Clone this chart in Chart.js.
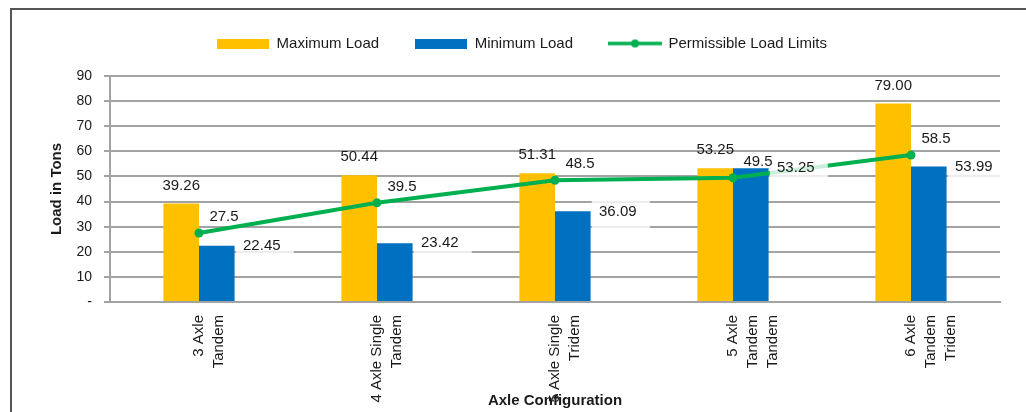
<!DOCTYPE html>
<html>
<head>
<meta charset="utf-8">
<script src="https://cdn.jsdelivr.net/npm/chart.js@4.4.0/dist/chart.umd.min.js"></script>
<style>
  html, body { margin: 0; padding: 0; background: #fff; overflow: hidden; width: 1026px; height: 412px; }
  #frame { position: absolute; left: 10px; top: 8px; width: 1100px; height: 520px; border: 2px solid #555; box-sizing: border-box; }
  #wrap { position: absolute; left: 0; top: 0; width: 1040px; height: 470px; }
</style>
</head>
<body>
<div id="frame"></div>
<div id="wrap"><canvas id="chart" width="1040" height="470"></canvas></div>
<script>
// Axle configurations and their loads (tons)
const categories = [
  ["3 Axle", "Tandem"],
  ["4 Axle Single", "Tandem"],
  ["5 Axle Single", "Tridem"],
  ["5 Axle", "Tandem", "Tandem"],
  ["6 Axle", "Tandem", "Tridem"]
];
const maximumLoad = [39.26, 50.44, 51.31, 53.25, 79.00];
const minimumLoad = [22.45, 23.42, 36.09, 53.25, 53.99];
const permissibleLimits = [27.5, 39.5, 48.5, 49.5, 58.5];
const yTickValues = [0, 10, 20, 30, 40, 50, 60, 70, 80, 90];
const yTickLabels = ["-", "10", "20", "30", "40", "50", "60", "70", "80", "90"];

const YELLOW = '#FFC000';
const BLUE = '#0070C0';
const GREEN = '#00B050';
const TEXT = '#1a1a1a';
const GRID = '#a3a3a3';
const FONT = "'Liberation Sans', Arial, sans-serif";

Chart.defaults.font.family = FONT;
Chart.defaults.color = TEXT;

// Legend markers: flat swatches for bars, line with dot for the limit series
function barSwatch(color) {
  const c = document.createElement('canvas');
  c.width = 52; c.height = 10;
  const g = c.getContext('2d');
  g.fillStyle = color;
  g.fillRect(0, 0, 52, 10);
  return c;
}
function lineSwatch(color) {
  const c = document.createElement('canvas');
  c.width = 54; c.height = 10;
  const g = c.getContext('2d');
  g.strokeStyle = color;
  g.lineWidth = 3.5;
  g.beginPath(); g.moveTo(0, 5); g.lineTo(54, 5); g.stroke();
  g.fillStyle = color;
  g.beginPath(); g.arc(27, 5, 4, 0, Math.PI * 2); g.fill();
  return c;
}
const legendMarks = [barSwatch(YELLOW), barSwatch(BLUE), lineSwatch(GREEN)];

// Legend sits in a taller band so the plot starts lower
const legendBand = {
  id: 'legendBand',
  beforeInit(chart) {
    const lg = chart.legend;
    if (!lg) return;
    const fit = lg.fit;
    lg.fit = function () { fit.call(this); this.height = 76; };
  }
};

// Value labels: above the maximum bars, beside the minimum bars, above-right of the limit points
const valueLabels = {
  id: 'valueLabels',
  afterDatasetsDraw(chart) {
    const ctx = chart.ctx;
    ctx.save();
    ctx.font = '15px ' + FONT;
    ctx.textAlign = 'center';
    ctx.textBaseline = 'middle';
    chart.data.datasets.forEach((ds, i) => {
      const meta = chart.getDatasetMeta(i);
      meta.data.forEach((el, j) => {
        const v = ds.data[j];
        let x, y, text;
        if (i === 0) {
          x = el.x; y = el.y - 18; text = v.toFixed(2);
        } else if (i === 1) {
          x = el.x + 45; y = el.y; text = v.toFixed(2);
          ctx.fillStyle = 'rgba(255,255,255,0.8)';
          ctx.fillRect(x - 26, y - 12, 58, 32);
        } else {
          x = el.x + 25; y = el.y - 16; text = String(v);
        }
        ctx.fillStyle = TEXT;
        ctx.fillText(text, x, y);
      });
    });
    ctx.restore();
  }
};

new Chart(document.getElementById('chart'), {
  type: 'bar',
  data: {
    labels: categories,
    datasets: [
      { label: 'Maximum Load', data: maximumLoad, backgroundColor: YELLOW, order: 2,
        categoryPercentage: 0.4, barPercentage: 1.0 },
      { label: 'Minimum Load', data: minimumLoad, backgroundColor: BLUE, order: 3,
        categoryPercentage: 0.4, barPercentage: 1.0 },
      { type: 'line', label: 'Permissible Load Limits', data: permissibleLimits, order: 1,
        borderColor: GREEN, backgroundColor: GREEN, borderWidth: 4,
        pointRadius: 4.5, pointHoverRadius: 4.5, pointBackgroundColor: GREEN, pointBorderWidth: 0,
        tension: 0, fill: false }
    ]
  },
  options: {
    responsive: false,
    animation: false,
    devicePixelRatio: 1,
    layout: { padding: { left: 44, right: 40, top: 0, bottom: 56 } },
    plugins: {
      tooltip: { enabled: false },
      legend: {
        position: 'top',
        labels: {
          usePointStyle: true,
          pointStyleWidth: 52,
          padding: 36,
          color: TEXT,
          font: { size: 15 },
          generateLabels(chart) {
            return chart.data.datasets.map((ds, i) => ({
              text: ds.label,
              pointStyle: legendMarks[i],
              fillStyle: 'transparent',
              strokeStyle: 'transparent',
              lineWidth: 0,
              hidden: false,
              datasetIndex: i,
              fontColor: TEXT
            }));
          }
        }
      }
    },
    scales: {
      x: {
        grid: { display: false, drawTicks: false },
        border: { display: true, color: GRID, width: 2 },
        ticks: {
          autoSkip: false, minRotation: 90, maxRotation: 90, padding: 13,
          color: TEXT, font: { size: 15, lineHeight: 1.33 }
        },
        title: { display: true, text: 'Axle Configuration', color: TEXT,
          font: { size: 15, weight: 'bold' }, padding: { top: 0, bottom: 4 } },
        afterFit(scale) { scale.height = 112; }
      },
      y: {
        min: 0, max: 90,
        afterBuildTicks(scale) { scale.ticks = yTickValues.map(v => ({ value: v })); },
        ticks: {
          padding: 12, color: TEXT, font: { size: 14 },
          callback(value) { return yTickLabels[yTickValues.indexOf(value)]; }
        },
        grid: { color: GRID, lineWidth: 2, tickLength: 6, drawTicks: true },
        border: { display: true, color: GRID, width: 2 },
        title: { display: true, text: 'Load in Tons', color: TEXT,
          font: { size: 15, weight: 'bold' }, padding: { top: 4, bottom: 0 } },
        afterFit(scale) { scale.width = 66; }
      }
    }
  },
  plugins: [legendBand, valueLabels]
});
</script>
</body>
</html>
